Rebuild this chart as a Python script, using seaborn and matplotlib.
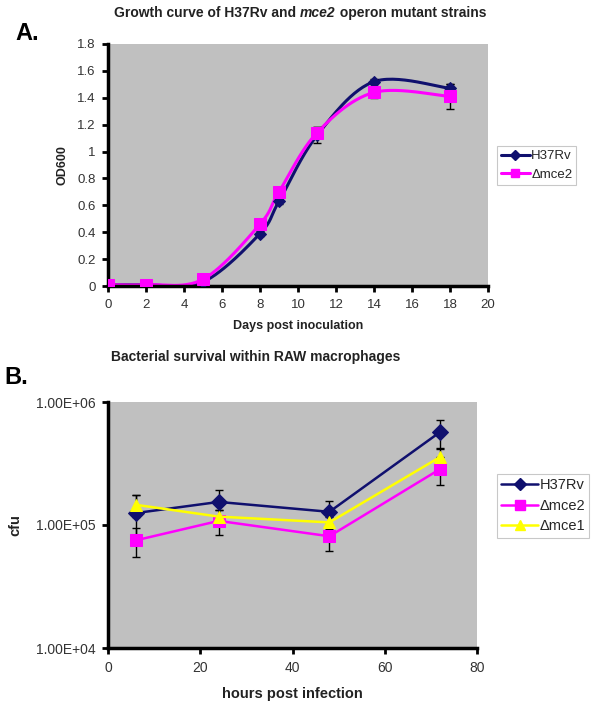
import numpy as np
import pandas as pd
import matplotlib
matplotlib.use("Agg")
import matplotlib.pyplot as plt
from matplotlib.lines import Line2D
from matplotlib.ticker import FixedLocator, NullLocator
import seaborn as sns

# ---------------- data ----------------
days = [0, 2, 5, 8, 9, 11, 14, 18]
od_h37rv = [0.01, 0.01, 0.03, 0.39, 0.63, 1.12, 1.52, 1.47]
od_h37rv_err = [0.0, 0.0, 0.0, 0.02, 0.02, 0.06, 0.02, 0.03]
od_mce2 = [0.01, 0.01, 0.05, 0.46, 0.70, 1.14, 1.44, 1.41]
od_mce2_err = [0.0, 0.0, 0.0, 0.02, 0.02, 0.04, 0.04, 0.09]

hours = [6, 24, 48, 72]
cfu_h37rv = [1.25e5, 1.54e5, 1.28e5, 5.7e5]
cfu_h37rv_err = [0.5e5, 0.38e5, 0.3e5, 1.45e5]
cfu_mce2 = [7.5e4, 1.08e5, 8.1e4, 2.85e5]
cfu_mce2_err = [0.2e5, 0.25e5, 0.2e5, 0.75e5]
cfu_mce1 = [1.46e5, 1.17e5, 1.05e5, 3.57e5]
cfu_mce1_err = [0.3e5, 0.15e5, 0.12e5, 0.6e5]

labels_a = ["H37Rv", "\u0394mce2"]
labels_b = ["H37Rv", "\u0394mce2", "\u0394mce1"]
yticks_b = [1e4, 1e5, 1e6]
yticklabels_b = ["1.00E+04", "1.00E+05", "1.00E+06"]

NAVY = "#10106e"
MAG = "#ff00ff"
YEL = "#ffff00"
GRAY = "#c0c0c0"
TXT = "#333333"

sns.set_theme(style="white")
plt.rcParams["font.family"] = ["Liberation Sans", "DejaVu Sans"]


def smooth(xs, ys, n=30):
    """Excel-like smoothed line (Bezier through points)."""
    P = np.column_stack([xs, ys]).astype(float)
    out = []
    m = len(P)
    for i in range(m - 1):
        p0 = P[i]
        p3 = P[i + 1]
        pm = P[i - 1] if i > 0 else P[i]
        pp = P[i + 2] if i + 2 < m else P[i + 1]
        c1 = p0 + (p3 - pm) / 6.0
        c2 = p3 - (pp - p0) / 6.0
        t = np.linspace(0, 1, n)[:, None]
        seg = ((1 - t) ** 3) * p0 + 3 * ((1 - t) ** 2) * t * c1 + 3 * (1 - t) * t ** 2 * c2 + t ** 3 * p3
        out.append(seg if i == 0 else seg[1:])
    S = np.vstack(out)
    return S[:, 0], S[:, 1]


fig = plt.figure(figsize=(6.0, 7.11), dpi=100)

# ---------------- Panel A ----------------
axA = fig.add_axes([108 / 600, 1 - 286 / 711, 380 / 600, 242 / 711])
axA.set_facecolor(GRAY)
for name, vals, errs, col, mk, ms in [
    (labels_a[0], od_h37rv, od_h37rv_err, NAVY, "D", 6),
    (labels_a[1], od_mce2, od_mce2_err, MAG, "s", 8),
]:
    sx, sy = smooth(days, vals)
    sns.lineplot(x=sx, y=sy, sort=False, color=col, lw=2.2, ax=axA, estimator=None)
    axA.errorbar(days, vals, yerr=errs, fmt="none", ecolor="black", elinewidth=1, capsize=3, zorder=4)
    sns.lineplot(x=days, y=vals, color=col, lw=0, marker=mk, markersize=ms,
                 markeredgecolor=col, ax=axA, estimator=None, zorder=5)

axA.set_xlim(0, 20)
axA.set_ylim(0, 1.8)
axA.set_xticks(range(0, 21, 2))
axA.set_yticks([0, 0.2, 0.4, 0.6, 0.8, 1.0, 1.2, 1.4, 1.6, 1.8])
axA.set_yticklabels(["0", "0.2", "0.4", "0.6", "0.8", "1", "1.2", "1.4", "1.6", "1.8"])
axA.set_xlabel("Days post inoculation", fontsize=9, fontweight="bold", color="#222222", labelpad=7)
axA.set_ylabel("OD600", fontsize=9, fontweight="bold", color="#222222", labelpad=6)
handlesA = [Line2D([0], [0], color=NAVY, lw=2.2, marker="D", markersize=5),
            Line2D([0], [0], color=MAG, lw=2.2, marker="s", markersize=6)]
legA = fig.legend(handlesA, labels_a, loc="upper left", bbox_to_anchor=(497 / 600, 1 - 146 / 711),
                  frameon=True, fancybox=False, fontsize=9.5, handlelength=2.2, handletextpad=0.1,
                  borderpad=0.3, labelspacing=0.5, borderaxespad=0)
legA.get_frame().set_edgecolor("#bbbbbb")
legA.get_frame().set_linewidth(0.8)

# ---------------- Panel B ----------------
axB = fig.add_axes([108 / 600, 1 - 648 / 711, 369 / 600, 246 / 711])
axB.set_facecolor(GRAY)
axB.set_yscale("log")
for name, vals, errs, col, mk, ms in [
    (labels_b[0], cfu_h37rv, cfu_h37rv_err, NAVY, "D", 8),
    (labels_b[1], cfu_mce2, cfu_mce2_err, MAG, "s", 8.5),
    (labels_b[2], cfu_mce1, cfu_mce1_err, YEL, "^", 9),
]:
    axB.errorbar(hours, vals, yerr=errs, fmt="none", ecolor="black", elinewidth=1, capsize=3, zorder=2)
    sns.lineplot(x=hours, y=vals, color=col, lw=1.8, marker=mk, markersize=ms,
                 markeredgecolor=col, ax=axB, estimator=None, zorder=3)

axB.set_xlim(0, 80)
axB.set_ylim(1e4, 1e6)
axB.set_xticks(range(0, 81, 20))
axB.yaxis.set_major_locator(FixedLocator(yticks_b))
axB.yaxis.set_minor_locator(NullLocator())
axB.set_yticklabels(yticklabels_b)
axB.set_xlabel("hours post infection", fontsize=10.5, fontweight="bold", color="#222222", labelpad=9)
axB.set_ylabel("cfu", fontsize=10.5, fontweight="bold", color="#222222", labelpad=10)
handlesB = [Line2D([0], [0], color=NAVY, lw=1.8, marker="D", markersize=6),
            Line2D([0], [0], color=MAG, lw=1.8, marker="s", markersize=7),
            Line2D([0], [0], color=YEL, lw=1.8, marker="^", markersize=7)]
legB = fig.legend(handlesB, labels_b, loc="upper left", bbox_to_anchor=(497 / 600, 1 - 474 / 711),
                  frameon=True, fancybox=False, fontsize=10.5, handlelength=2.5, handletextpad=0.1,
                  borderpad=0.3, labelspacing=0.45, borderaxespad=0)
legB.get_frame().set_edgecolor("#bbbbbb")
legB.get_frame().set_linewidth(0.8)

for ax, fs in [(axA, 9.5), (axB, 10)]:
    for s in ["top", "right"]:
        ax.spines[s].set_visible(False)
    for s in ["left", "bottom"]:
        ax.spines[s].set_visible(True)
        ax.spines[s].set_color("black")
        ax.spines[s].set_linewidth(2.5)
    ax.tick_params(axis="both", which="major", direction="out", length=4, width=2, pad=5,
                   color="black", labelsize=fs, labelcolor=TXT, left=True, bottom=True)
    ax.grid(False)

# title of panel A with italic part
r = fig.canvas.get_renderer()
parts = [("Growth curve of H37Rv and ", "normal"), ("mce2", "italic"), (" operon mutant strains", "normal")]
objs = []
for txt, st in parts:
    objs.append(fig.text(0, 1 - 13 / 711, txt, ha="left", va="center", fontsize=10,
                         fontweight="bold", fontstyle=st, color="#222222"))
widths = [o.get_window_extent(renderer=r).width for o in objs]
x0 = 300 - sum(widths) / 2
for o, w in zip(objs, widths):
    o.set_x(x0 / 600)
    x0 += w

fig.text(15 / 600, 1 - 34 / 711, "A.", fontsize=17, fontweight="bold", color="black", va="center", ha="left")
fig.text(256 / 600, 1 - 357 / 711, "Bacterial survival within RAW macrophages", ha="center", va="center",
         fontsize=10, fontweight="bold", color="#222222")
fig.text(4 / 600, 1 - 378 / 711, "B.", fontsize=17, fontweight="bold", color="black", va="center", ha="left")

fig.savefig("out.png", dpi=100, facecolor="white")
